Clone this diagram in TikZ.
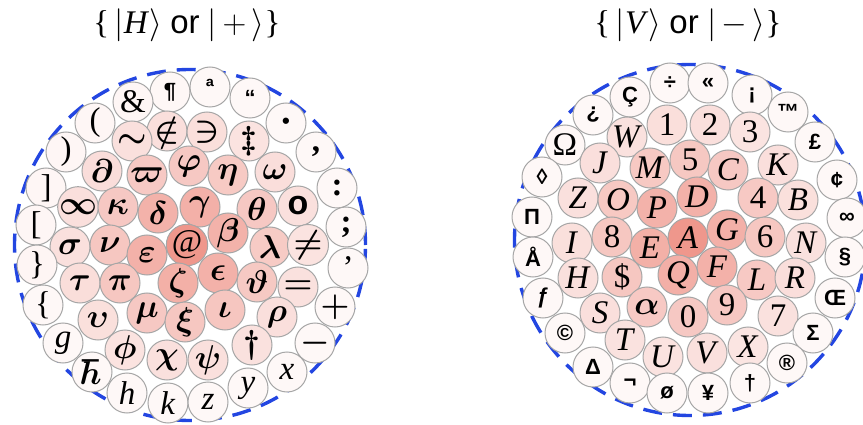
\RequirePackage{fix-cm}
\documentclass[tikz,border=0pt]{standalone}
\usepackage{fontspec}
\setmainfont{Liberation Serif}
\newfontfamily\symfont{Liberation Sans}
\definecolor{hot}{RGB}{228,82,64}
\definecolor{rim}{RGB}{35,70,225}
\newcommand{\sy}[1]{{\symfont\bfseries\fontsize{22}{22}\selectfont #1}}
% one ball: name, x, y, symbol; tint from distance to (\cx,\cy)
\newcommand{\orb}[4]{%
  \pgfmathsetmacro\tint{max(4,60-0.36*veclen(#2-\cx,#3-\cy))}%
  \node[ball, fill=hot!\tint!white] (#1) at (#2,#3) {#4};}
\tikzset{
  ball/.style={circle, draw=gray!70, line width=1pt, minimum size=40pt,
    inner sep=0pt, font=\fontsize{33}{33}\selectfont\boldmath},
  disk/.style={circle, draw=rim, line width=3.4pt, dash pattern=on 19pt off 11pt,
    minimum size=351pt, inner sep=0pt},
  title/.style={font=\fontsize{33}{33}\selectfont}
}
\begin{document}
\begin{tikzpicture}[x=1pt,y=-1pt]
\useasboundingbox (0,0) rectangle (863,425);

% titles
\node[title] (tl) at (187,25) {\{\,$|$\textit{H}$\rangle$ {\symfont or} $|\,+\,\rangle$\}};
\node[title] (tr) at (688,25) {\{\,$|$\textit{V}$\rangle$ {\symfont or} $|\,-\,\rangle$\}};

% dashed borders
\node[disk] (dl) at (190,245) {};
\node[disk] (dr) at (690,240) {};

% left set
\def\cx{187}\def\cy{245}
\orb{l1}{170}{92}{\sy{¶}}
\orb{l2}{210}{87}{\sy{ª}}
\orb{l3}{250}{98}{\sy{“}}
\orb{l4}{133}{102}{\&}
\orb{l5}{286}{123}{\sy{•}}
\orb{l6}{95}{123}{(}
\orb{l7}{167}{131}{$\notin$}
\orb{l8}{207}{132}{$\ni$}
\orb{l9}{249}{141}{$\ddagger$}
\orb{l10}{132}{141}{$\sim$}
\orb{l11}{316}{152}{\textbf{,}}
\orb{l12}{66}{152}{)}
\orb{l13}{102}{171}{$\partial$}
\orb{l14}{147}{175}{$\varpi$}
\orb{l15}{189}{166}{$\varphi$}
\orb{l16}{228}{175}{$\eta$}
\orb{l17}{275}{172}{$\omega$}
\orb{l18}{337}{188}{\textbf{:}}
\orb{l19}{46}{188}{]}
\orb{l20}{78}{207}{$\infty$}
\orb{l21}{118}{207}{$\kappa$}
\orb{l22}{158}{213}{$\delta$}
\orb{l23}{200}{207}{$\gamma$}
\orb{l24}{257}{209}{$\theta$}
\orb{l25}{298}{206}{{\symfont\bfseries\fontsize{34}{34}\selectfont o}}
\orb{l26}{346}{227}{\textbf{;}}
\orb{l27}{36}{225}{[}
\orb{l28}{70}{247}{$\sigma$}
\orb{l29}{110}{245}{$\nu$}
\orb{l30}{147}{255}{$\varepsilon$}
\orb{l31}{187}{245}{@}
\orb{l32}{228}{233}{$\beta$}
\orb{l33}{270}{247}{$\lambda$}
\orb{l34}{308}{245}{$\neq$}
\orb{l35}{348}{268}{’}
\orb{l36}{37}{265}{\}}
\orb{l37}{80}{283}{$\tau$}
\orb{l38}{120}{283}{$\pi$}
\orb{l39}{178}{283}{$\zeta$}
\orb{l40}{218}{273}{$\epsilon$}
\orb{l41}{257}{282}{$\vartheta$}
\orb{l42}{298}{287}{$=$}
\orb{l43}{335}{307}{$+$}
\orb{l44}{43}{305}{\{}
\orb{l45}{98}{320}{$\upsilon$}
\orb{l46}{147}{313}{$\mu$}
\orb{l47}{185}{322}{$\xi$}
\orb{l48}{225}{310}{$\iota$}
\orb{l49}{277}{317}{$\rho$}
\orb{l50}{315}{343}{$-$}
\orb{l51}{63}{343}{\textit{g}}
\orb{l52}{125}{350}{$\phi$}
\orb{l53}{167}{360}{$\chi$}
\orb{l54}{208}{360}{$\psi$}
\orb{l55}{252}{345}{$\dagger$}
\orb{l56}{287}{372}{\textit{x}}
\orb{l57}{92}{372}{$\hbar$}
\orb{l58}{127}{393}{\textit{h}}
\orb{l59}{168}{403}{\textit{k}}
\orb{l60}{208}{402}{\textit{z}}
\orb{l61}{248}{388}{\textit{y}}

% right set
\def\cx{688}\def\cy{238}
\orb{r1}{670}{83}{\sy{÷}}
\orb{r2}{708}{83}{\sy{«}}
\orb{r3}{630}{97}{\sy{Ç}}
\orb{r4}{752}{95}{\sy{¡}}
\orb{r5}{593}{115}{\sy{¿}}
\orb{r6}{788}{112}{\sy{™}}
\orb{r7}{565}{145}{Ω}
\orb{r8}{627}{137}{\textit{W}}
\orb{r9}{667}{125}{1}
\orb{r10}{710}{125}{2}
\orb{r11}{750}{132}{3}
\orb{r12}{815}{142}{\sy{£}}
\orb{r13}{542}{177}{\sy{◊}}
\orb{r14}{600}{163}{\textit{J}}
\orb{r15}{650}{168}{\textit{M}}
\orb{r16}{690}{160}{5}
\orb{r17}{728}{170}{\textit{C}}
\orb{r18}{778}{165}{\textit{K}}
\orb{r19}{837}{180}{\sy{¢}}
\orb{r20}{532}{217}{\sy{Π}}
\orb{r21}{578}{198}{\textit{Z}}
\orb{r22}{618}{200}{\textit{O}}
\orb{r23}{657}{208}{\textit{P}}
\orb{r24}{697}{197}{\textit{D}}
\orb{r25}{758}{198}{4}
\orb{r26}{798}{200}{\textit{B}}
\orb{r27}{847}{218}{\sy{∞}}
\orb{r28}{572}{243}{\textit{I}}
\orb{r29}{612}{237}{8}
\orb{r30}{650}{248}{\textit{E}}
\orb{r31}{688}{238}{\textit{A}}
\orb{r32}{727}{230}{\textit{G}}
\orb{r33}{765}{237}{6}
\orb{r34}{806}{243}{\textit{N}}
\orb{r35}{533}{257}{\sy{Å}}
\orb{r36}{845}{257}{\sy{§}}
\orb{r37}{578}{278}{\textit{H}}
\orb{r38}{622}{277}{\$}
\orb{r39}{678}{275}{\textit{Q}}
\orb{r40}{717}{267}{\textit{F}}
\orb{r41}{757}{280}{\textit{L}}
\orb{r42}{795}{278}{\textit{R}}
\orb{r43}{543}{298}{\sy{ƒ}}
\orb{r44}{835}{298}{\sy{Œ}}
\orb{r45}{600}{313}{\textit{S}}
\orb{r46}{647}{307}{$\alpha$}
\orb{r47}{688}{317}{0}
\orb{r48}{727}{305}{9}
\orb{r49}{778}{316}{7}
\orb{r50}{565}{333}{\sy{©}}
\orb{r51}{813}{333}{\sy{Σ}}
\orb{r52}{625}{340}{\textit{T}}
\orb{r53}{663}{357}{\textit{U}}
\orb{r54}{707}{353}{\textit{V}}
\orb{r55}{748}{347}{\textit{X}}
\orb{r56}{593}{367}{\sy{Δ}}
\orb{r57}{787}{363}{\sy{®}}
\orb{r58}{630}{383}{\sy{¬}}
\orb{r59}{667}{393}{\sy{ø}}
\orb{r60}{708}{393}{\sy{¥}}
\orb{r61}{750}{383}{\sy{†}}
\end{tikzpicture}
\end{document}
